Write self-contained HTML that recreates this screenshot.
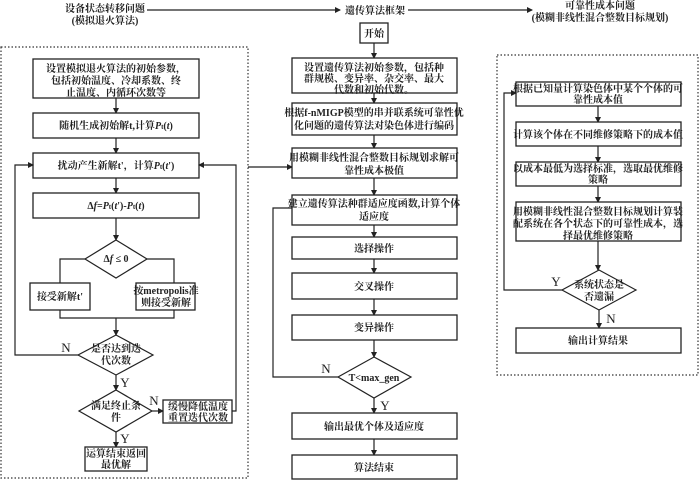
<!DOCTYPE html>
<html><head><meta charset="utf-8"><style>
html,body{margin:0;padding:0;background:#fff;}
svg{display:block;}
text{font-family:"Liberation Serif","Noto Serif CJK SC",serif;font-size:10px;font-weight:bold;fill:#222;text-anchor:middle;}
.l{font-weight:normal;font-size:13px;}
rect{fill:#fff;stroke:#222;stroke-width:1.3;}
polygon.d{fill:#fff;stroke:#222;stroke-width:1.2;}
line,polyline{stroke:#222;stroke-width:1.2;fill:none;}
.dot{fill:none;stroke:#333;stroke-width:1.2;stroke-dasharray:1.5 2;}
</style></head><body>
<svg width="700" height="480" viewBox="0 0 700 480" xmlns="http://www.w3.org/2000/svg">
<defs><marker id="a" markerWidth="6" markerHeight="6" refX="5" refY="3" orient="auto" markerUnits="userSpaceOnUse"><path d="M0,0 L6,3 L0,6z" fill="#222"/></marker></defs>

<!-- headers -->
<text x="105" y="12">设备状态转移问题</text>
<text x="105" y="24">(模拟退火算法)</text>
<line x1="147" y1="10" x2="340" y2="10" marker-end="url(#a)"/>
<text x="375" y="14">遗传算法框架</text>
<line x1="408" y1="10" x2="532" y2="10" marker-end="url(#a)"/>
<text x="600" y="9">可靠性成本问题</text>
<text x="600" y="21">(模糊非线性混合整数目标规划)</text>

<!-- dotted panels -->
<rect class="dot" x="1" y="47" width="247" height="431"/>
<rect class="dot" x="497" y="55" width="201" height="320"/>

<!-- LEFT -->
<rect x="33" y="59" width="166" height="39"/>
<text x="116" y="72">设置模拟退火算法的初始参数，</text>
<text x="116" y="84">包括初始温度、冷却系数、终</text>
<text x="116" y="96">止温度、内循环次数等</text>
<line x1="116" y1="98" x2="116" y2="113" marker-end="url(#a)"/>
<rect x="33" y="113" width="166" height="25"/>
<text x="116" y="129">随机生成初始解t,计算<tspan font-style="italic">P</tspan><tspan font-size="7">t</tspan>(<tspan font-style="italic">t</tspan>)</text>
<line x1="116" y1="138" x2="116" y2="153" marker-end="url(#a)"/>
<rect x="33" y="153" width="166" height="25"/>
<text x="116" y="169">扰动产生新解t'，计算<tspan font-style="italic">P</tspan><tspan font-size="7">t</tspan>(<tspan font-style="italic">t</tspan>')</text>
<line x1="116" y1="178" x2="116" y2="193" marker-end="url(#a)"/>
<rect x="33" y="193" width="166" height="25"/>
<text x="116" y="209" font-weight="normal">Δ<tspan font-style="italic">f</tspan>=<tspan font-style="italic">P</tspan><tspan font-size="7">t</tspan>(<tspan font-style="italic">t</tspan>')-<tspan font-style="italic">P</tspan><tspan font-size="7">t</tspan>(<tspan font-style="italic">t</tspan>)</text>
<line x1="116" y1="218" x2="116" y2="240" marker-end="url(#a)"/>
<polygon class="d" points="116,240 147,259 116,278 85,259"/>
<text x="116" y="262" font-weight="normal">Δ<tspan font-style="italic">f</tspan> ≤ 0</text>
<polyline points="85,259 60,259 60,283"/>
<polyline points="147,259 174,259 174,283"/>
<rect x="30" y="283" width="60" height="27"/>
<text x="60" y="300">接受新解t'</text>
<rect x="136" y="283" width="59" height="27"/>
<text x="166" y="294">按metropolis准</text>
<text x="166" y="306">则接受新解</text>
<polyline points="60,310 60,318 174,318 174,310"/>
<line x1="116" y1="318" x2="116" y2="335" marker-end="url(#a)"/>
<polygon class="d" points="116,335 153,355 116,375 78,355"/>
<text x="116" y="352">是否达到迭</text>
<text x="116" y="364">代次数</text>
<polyline points="78,355 15,355 15,165 33,165" marker-end="url(#a)"/>
<text x="66" y="352" class="l">N</text>
<line x1="116" y1="375" x2="116" y2="390" marker-end="url(#a)"/>
<text x="125" y="387" class="l">Y</text>
<polygon class="d" points="116,390 152,411 116,432 79,411"/>
<text x="116" y="409">满足终止条</text>
<text x="116" y="421">件</text>
<line x1="152" y1="411" x2="163" y2="411" marker-end="url(#a)"/>
<text x="154" y="405" class="l">N</text>
<rect x="163" y="400" width="69" height="23"/>
<text x="198" y="410">缓慢降低温度</text>
<text x="198" y="421">重置迭代次数</text>
<polyline points="232,411 236,411 236,165 199,165" marker-end="url(#a)"/>
<line x1="116" y1="432" x2="116" y2="447" marker-end="url(#a)"/>
<text x="125" y="443" class="l">Y</text>
<rect x="85" y="447" width="62" height="24"/>
<text x="116" y="457">运算结束返回</text>
<text x="116" y="468">最优解</text>
<line x1="248" y1="167" x2="292" y2="167" marker-end="url(#a)"/>

<!-- MIDDLE -->
<rect x="360" y="23" width="28" height="20"/>
<text x="374" y="37">开始</text>
<line x1="374" y1="43" x2="374" y2="58" marker-end="url(#a)"/>
<rect x="292" y="58" width="165" height="35"/>
<text x="374" y="71">设置遗传算法初始参数，包括种</text>
<text x="374" y="82">群规模、变异率、杂交率、最大</text>
<text x="374" y="93" font-size="9.5">代数和初始代数。</text>
<line x1="374" y1="93" x2="374" y2="103" marker-end="url(#a)"/>
<rect x="292" y="103" width="165" height="32"/>
<text x="374" y="116">根据f-nMIGP模型的串并联系统可靠性优</text>
<text x="374" y="129">化问题的遗传算法对染色体进行编码</text>
<line x1="374" y1="135" x2="374" y2="148" marker-end="url(#a)"/>
<rect x="292" y="148" width="165" height="30"/>
<text x="374" y="161">用模糊非线性混合整数目标规划求解可</text>
<text x="374" y="174">靠性成本极值</text>
<line x1="374" y1="178" x2="374" y2="195" marker-end="url(#a)"/>
<rect x="292" y="195" width="165" height="30"/>
<text x="374" y="207">建立遗传算法种群适应度函数,计算个体</text>
<text x="374" y="220">适应度</text>
<line x1="374" y1="225" x2="374" y2="237" marker-end="url(#a)"/>
<rect x="292" y="237" width="165" height="22"/>
<text x="374" y="252">选择操作</text>
<line x1="374" y1="259" x2="374" y2="273" marker-end="url(#a)"/>
<rect x="292" y="273" width="165" height="26"/>
<text x="374" y="290">交叉操作</text>
<line x1="374" y1="299" x2="374" y2="315" marker-end="url(#a)"/>
<rect x="292" y="315" width="165" height="25"/>
<text x="374" y="331">变异操作</text>
<line x1="374" y1="340" x2="374" y2="357" marker-end="url(#a)"/>
<polygon class="d" points="374,357 411,377 374,398 338,377"/>
<text x="374" y="381" font-weight="normal" font-size="9.5">T&lt;max_gen</text>
<polyline points="338,377 273,377 273,208 292,208"/>
<text x="326" y="373" class="l">N</text>
<line x1="374" y1="398" x2="374" y2="413" marker-end="url(#a)"/>
<text x="385" y="410" class="l">Y</text>
<rect x="292" y="413" width="165" height="26"/>
<text x="374" y="430">输出最优个体及适应度</text>
<line x1="374" y1="439" x2="374" y2="455" marker-end="url(#a)"/>
<rect x="292" y="455" width="165" height="24"/>
<text x="374" y="471">算法结束</text>

<!-- RIGHT -->
<rect x="516" y="82" width="165" height="24"/>
<text x="598" y="92">根据已知量计算染色体中某个个体的可</text>
<text x="598" y="103">靠性成本值</text>
<line x1="598" y1="106" x2="598" y2="122" marker-end="url(#a)"/>
<rect x="516" y="122" width="165" height="24"/>
<text x="598" y="138">计算该个体在不同维修策略下的成本值</text>
<line x1="598" y1="146" x2="598" y2="162" marker-end="url(#a)"/>
<rect x="516" y="162" width="165" height="24"/>
<text x="598" y="172">以成本最低为选择标准，选取最优维修</text>
<text x="598" y="183">策略</text>
<line x1="598" y1="186" x2="598" y2="202" marker-end="url(#a)"/>
<rect x="516" y="202" width="165" height="39"/>
<text x="598" y="215">用模糊非线性混合整数目标规划计算装</text>
<text x="598" y="227">配系统在各个状态下的可靠性成本，选</text>
<text x="598" y="239">择最优维修策略</text>
<line x1="598" y1="241" x2="598" y2="270" marker-end="url(#a)"/>
<polygon class="d" points="599,270 636,290 599,310 562,290"/>
<text x="599" y="288">系统状态是</text>
<text x="599" y="300">否遗漏</text>
<polyline points="562,290 504,290 504,93 516,93" marker-end="url(#a)"/>
<text x="556" y="286" class="l">Y</text>
<line x1="599" y1="310" x2="599" y2="328" marker-end="url(#a)"/>
<text x="611" y="323" class="l">N</text>
<rect x="516" y="328" width="165" height="25"/>
<text x="598" y="344">输出计算结果</text>
</svg>
</body></html>
